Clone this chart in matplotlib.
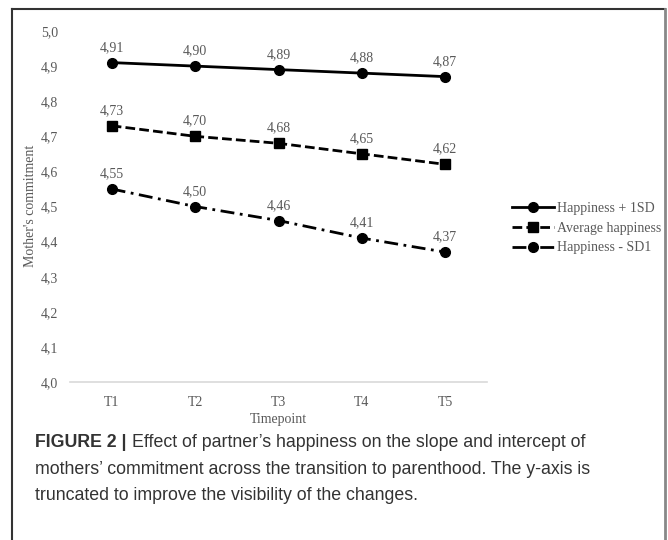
import matplotlib.pyplot as plt
from matplotlib.lines import Line2D

# data
timepoints = ['T1', 'T2', 'T3', 'T4', 'T5']
happy_plus = [4.91, 4.90, 4.89, 4.88, 4.87]
happy_avg = [4.73, 4.70, 4.68, 4.65, 4.62]
happy_minus = [4.55, 4.50, 4.46, 4.41, 4.37]
series_names = ['Happiness + 1SD', 'Average happiness', 'Happiness - SD1']
y_ticks = [4.0, 4.1, 4.2, 4.3, 4.4, 4.5, 4.6, 4.7, 4.8, 4.9, 5.0]

W, H = 668, 540
GRAY = '#595959'
SERIF = 'Liberation Serif'

fig = plt.figure(figsize=(W / 100, H / 100), dpi=100)
ax = fig.add_axes([70 / W, (H - 382) / H, 417 / W, 351 / H])

x = list(range(len(timepoints)))
styles = [
    dict(marker='o', linestyle='-'),
    dict(marker='s', linestyle=(0, (3.5, 1.5))),
    dict(marker='o', linestyle=(0, (5, 2, 1, 2))),
]
for vals, name, st in zip([happy_plus, happy_avg, happy_minus], series_names, styles):
    ax.plot(x, vals, color='black', lw=2, markersize=7, label=name, **st)
    for xi, v in zip(x, vals):
        ax.annotate(f'{v:.2f}'.replace('.', ','), (xi, v), xytext=(0, 8.5),
                    textcoords='offset points', ha='center', va='baseline',
                    fontsize=10, color=GRAY, family=SERIF)

ax.set_xlim(-0.5, len(timepoints) - 0.5)
ax.set_ylim(4.0, 5.0)
ax.set_xticks(x)
ax.set_xticklabels(timepoints)
ax.set_yticks(y_ticks)
ax.set_yticklabels([f'{t:.1f}'.replace('.', ',') for t in y_ticks])
ax.tick_params(length=0, labelsize=10, labelcolor=GRAY)
ax.tick_params(axis='x', pad=10)
ax.tick_params(axis='y', pad=8.5)
for lab in ax.get_xticklabels() + ax.get_yticklabels():
    lab.set_family(SERIF)
for s in ['top', 'right', 'left']:
    ax.spines[s].set_visible(False)
ax.spines['bottom'].set_color('#d9d9d9')
ax.spines['bottom'].set_linewidth(1.2)

fig.text(30 / W, 1 - 206 / H, "Mother's commitment", rotation=90, ha='center', va='center',
         fontsize=10, color=GRAY, family=SERIF)
fig.text(278 / W, 1 - 420 / H, 'Timepoint', ha='center', va='center',
         fontsize=10, color=GRAY, family=SERIF)

ax.legend(loc='center left', bbox_to_anchor=(505 / W, 1 - 228 / H),
          bbox_transform=fig.transFigure, frameon=False, borderpad=0,
          handlelength=3.0, handletextpad=0.25, labelspacing=0.5,
          prop={'family': SERIF, 'size': 10}, labelcolor=GRAY)

# outer frame
fig.add_artist(Line2D([12 / W, 665 / W], [1 - 9 / H, 1 - 9 / H], transform=fig.transFigure, color='#333333', lw=1.5))
fig.add_artist(Line2D([12 / W, 12 / W], [0, 1 - 9 / H], transform=fig.transFigure, color='#333333', lw=1.5))
fig.add_artist(Line2D([665 / W, 665 / W], [0, 1 - 9 / H], transform=fig.transFigure, color='#888888', lw=2))

# caption
cap_font = dict(family='Liberation Sans', fontsize=12.8, color='#333333')
x0 = 35 / W
t1 = fig.text(x0, 1 - 447 / H, 'FIGURE 2 |', fontweight='bold', va='baseline', **cap_font)
fig.canvas.draw()
bb = t1.get_window_extent(fig.canvas.get_renderer())
fig.text((bb.x1 + 5) / W, 1 - 447 / H, "Effect of partner\u2019s happiness on the slope and intercept of",
         va='baseline', **cap_font)
fig.text(x0, 1 - 473.5 / H, "mothers\u2019 commitment across the transition to parenthood. The y-axis is",
         va='baseline', **cap_font)
fig.text(x0, 1 - 500 / H, "truncated to improve the visibility of the changes.",
         va='baseline', **cap_font)

fig.savefig('out.png', dpi=100)
